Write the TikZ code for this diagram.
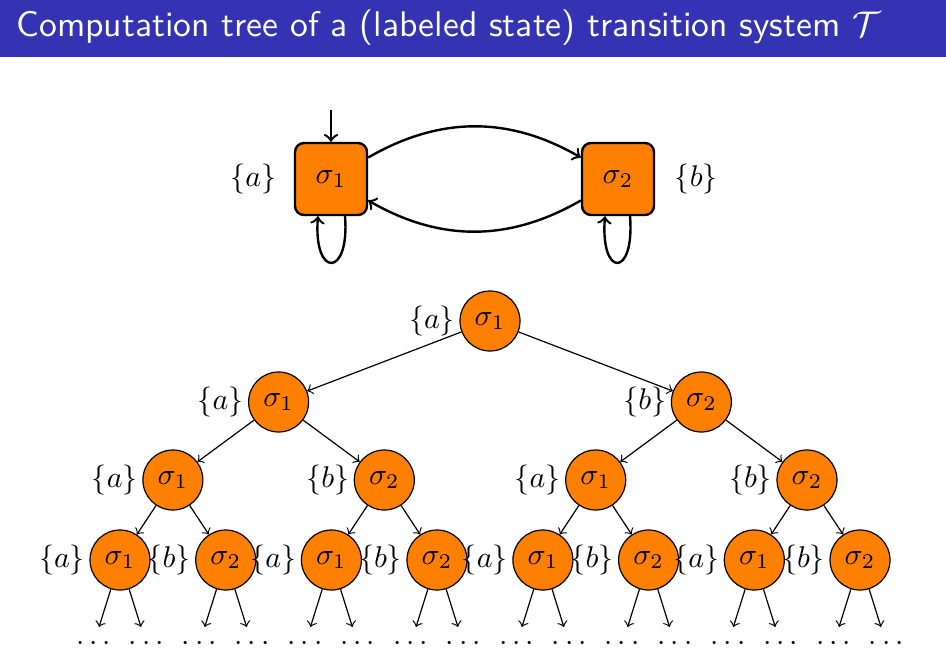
\documentclass[tikz,border=0pt]{standalone}
\usepackage{graphicx}
\usetikzlibrary{calc}
\definecolor{stateorange}{RGB}{255,128,0}
\definecolor{titleblue}{RGB}{51,51,179}
\begin{document}
\begin{tikzpicture}[x=0.33333pt,y=-0.33333pt,
  sbox/.style={draw=black,thick,fill=stateorange,rounded corners=3pt,minimum size=24pt,inner sep=0pt},
  tnode/.style={circle,draw=black,thin,fill=stateorange,minimum size=20pt,inner sep=0pt},
  tlab/.style={anchor=east,inner sep=1.3pt},
  dotnode/.style={anchor=north},
  tarr/.style={->,thin},
  sarr/.style={->,thick}]
\useasboundingbox (0,0) rectangle (946,663);
% title
\fill[titleblue] (0,0) rectangle (946,57);
\node[anchor=west,text=white,inner sep=0pt] (title) at (16,28)
  {\resizebox{288pt}{!}{\sffamily Computation tree of a (labeled state) transition system $\mathcal{T}$}};
% transition system
\node[sbox] (s1) at (331,179) {$\sigma_1$};
\node[sbox] (s2) at (618,179) {$\sigma_2$};
\node[anchor=east,inner sep=0pt] (la) at ($(s1.west)+(-17,0)$) {$\{a\}$};
\node[anchor=west,inner sep=0pt] (lb) at ($(s2.east)+(19,0)$) {$\{b\}$};
\coordinate (init) at (331,110);
\draw[sarr] (init) -- (s1);
\draw[sarr] (s1) to[bend left=30] (s2);
\draw[sarr] (s2) to[bend left=30] (s1);
\draw[sarr] ($(s1.south)+(14,0)$) .. controls +(5,62) and +(-5,62) .. ($(s1.south)+(-13,0)$);
\draw[sarr] ($(s2.south)+(12,0)$) .. controls +(5,62) and +(-5,62) .. ($(s2.south)+(-13,0)$);
% tree
\node[tnode] (n0) at (490,321) {$\sigma_1$};
\node[tlab] (ln0) at (n0.west) {$\{a\}$};
\node[tnode] (n1) at (278.6,402) {$\sigma_1$};
\node[tlab] (ln1) at (n1.west) {$\{a\}$};
\node[tnode] (n2) at (701.4,402) {$\sigma_2$};
\node[tlab] (ln2) at (n2.west) {$\{b\}$};
\node[tnode] (n11) at (172.9,480) {$\sigma_1$};
\node[tlab] (ln11) at (n11.west) {$\{a\}$};
\node[tnode] (n12) at (384.3,480) {$\sigma_2$};
\node[tlab] (ln12) at (n12.west) {$\{b\}$};
\node[tnode] (n21) at (595.7,480) {$\sigma_1$};
\node[tlab] (ln21) at (n21.west) {$\{a\}$};
\node[tnode] (n22) at (807,480) {$\sigma_2$};
\node[tlab] (ln22) at (n22.west) {$\{b\}$};
\draw[tarr] (n0) -- (n1);
\draw[tarr] (n0) -- (n2);
\draw[tarr] (n1) -- (n11);
\draw[tarr] (n1) -- (n12);
\draw[tarr] (n2) -- (n21);
\draw[tarr] (n2) -- (n22);
\foreach \i/\x/\s/\l/\p in {1/120/1/a/n11,2/225.7/2/b/n11,3/331.4/1/a/n12,4/437/2/b/n12,
                          5/542.9/1/a/n21,6/648.6/2/b/n21,7/754.3/1/a/n22,8/860/2/b/n22}{
  \node[tnode] (m\i) at (\x,560) {$\sigma_\s$};
  \node[tlab] (lm\i) at (m\i.west) {$\{\l\}$};
  \draw[tarr] (\p) -- (m\i);
  \node[dotnode] (da\i) at (\x-26.4,627) {$\cdots$};
  \node[dotnode] (db\i) at (\x+26.4,627) {$\cdots$};
  \draw[tarr] (m\i) -- (da\i);
  \draw[tarr] (m\i) -- (db\i);
}
\end{tikzpicture}
\end{document}
